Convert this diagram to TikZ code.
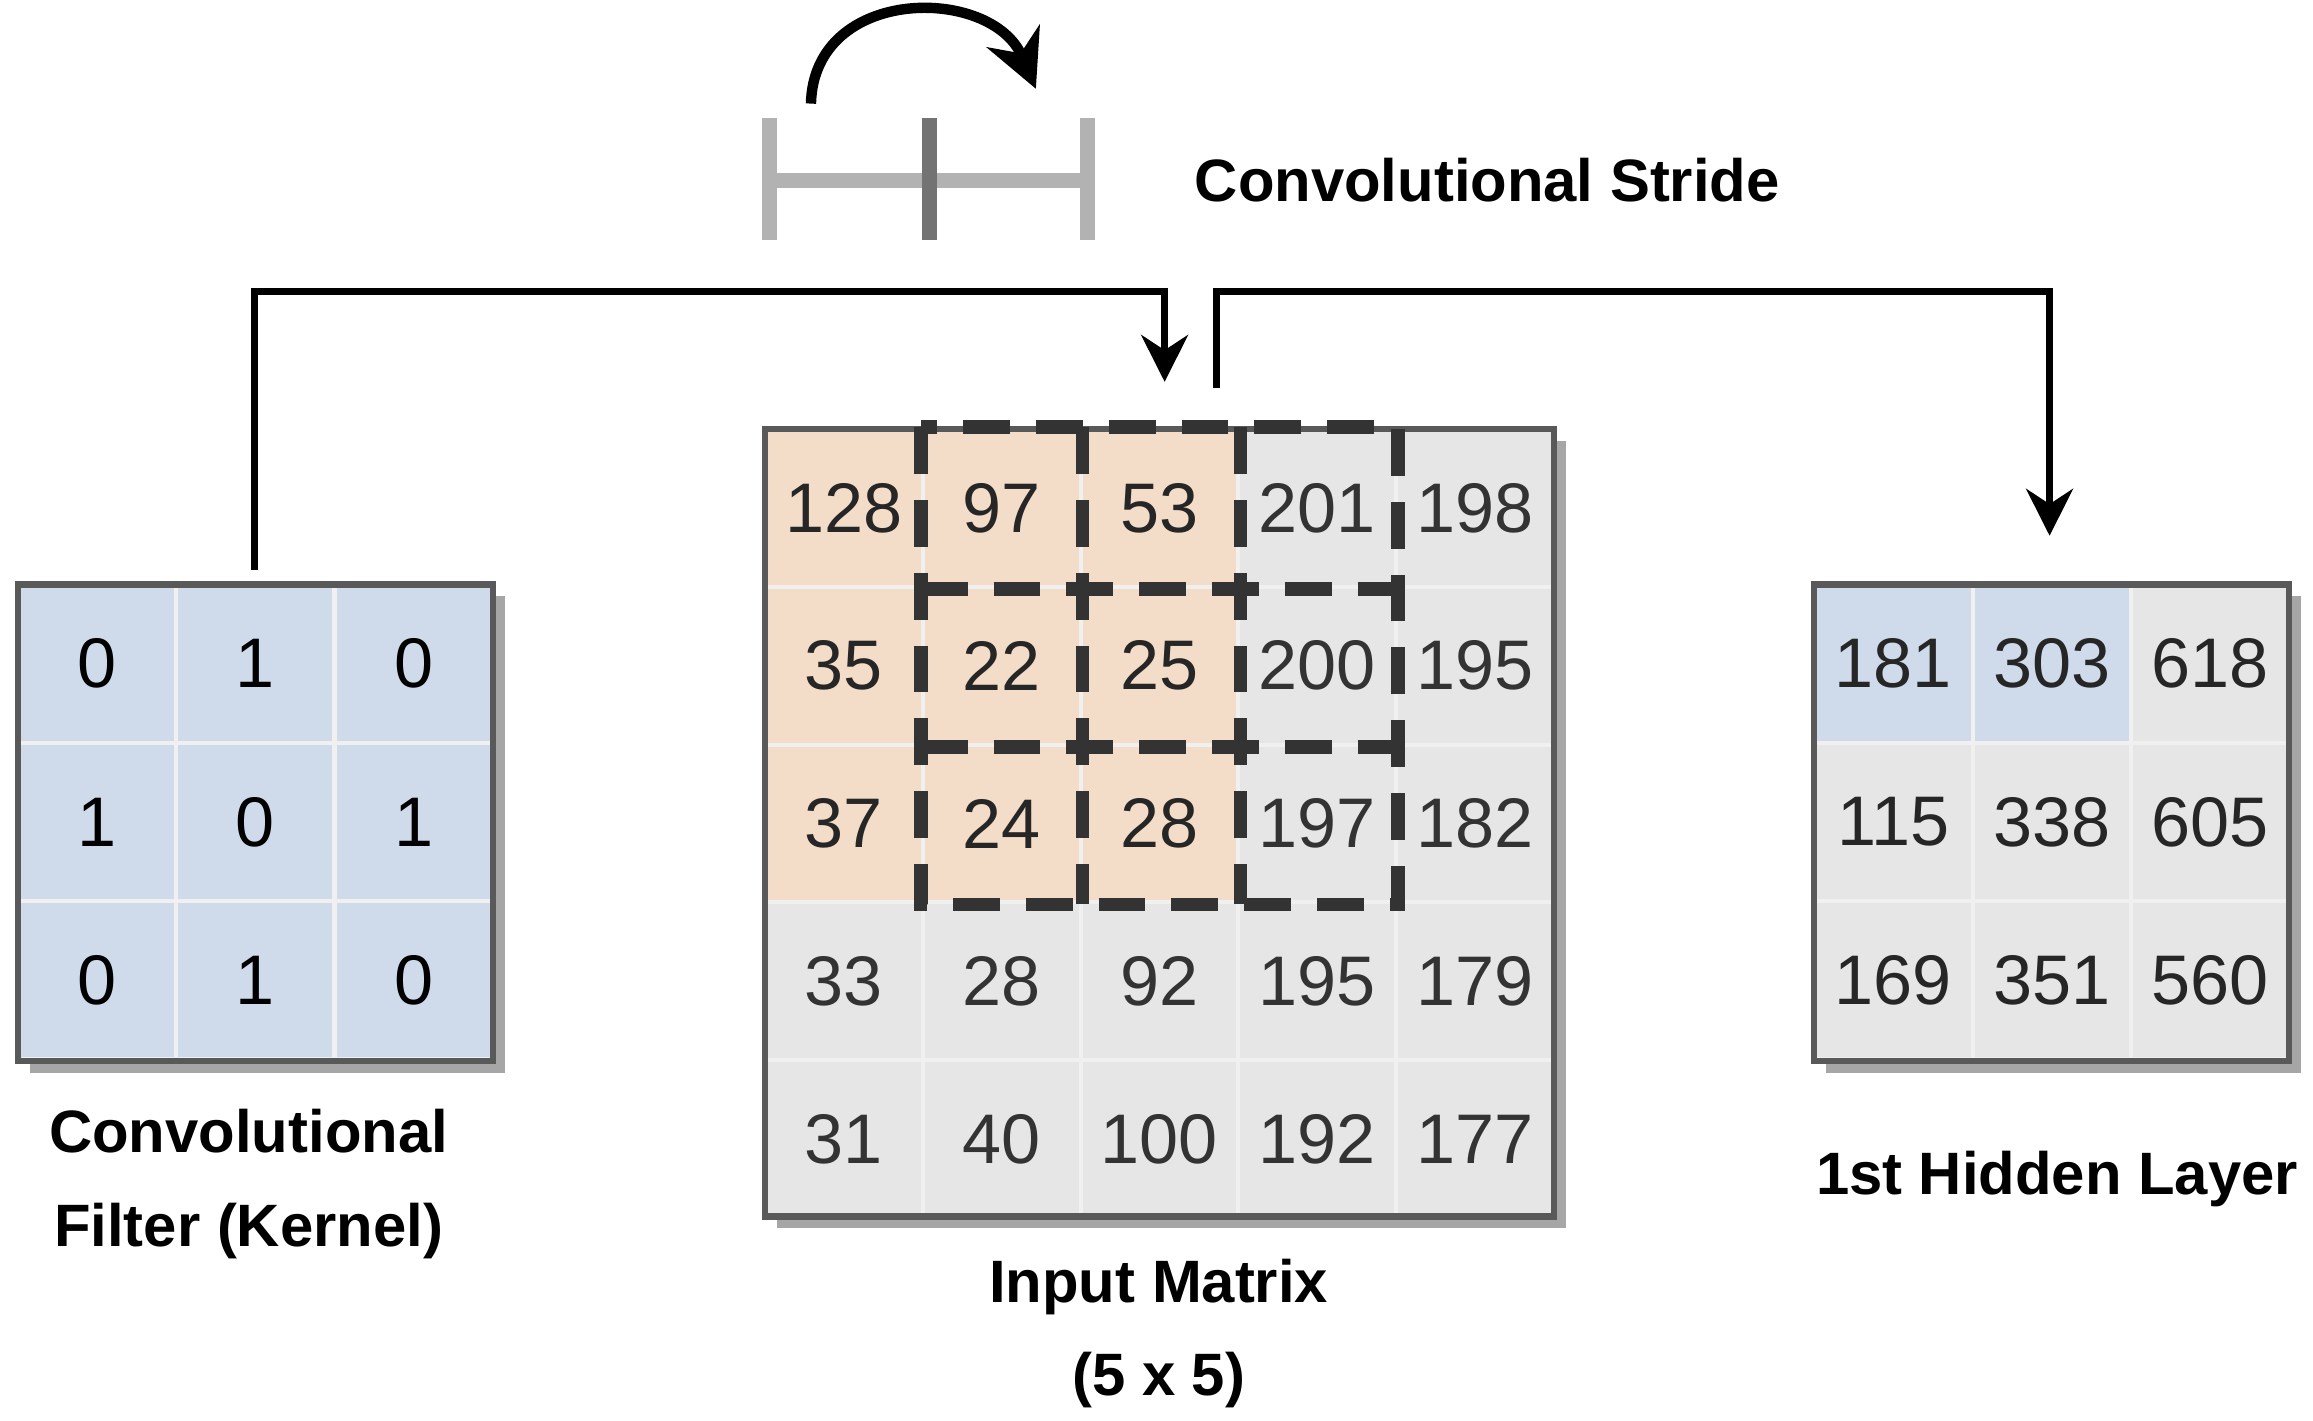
\documentclass[tikz,border=0pt]{standalone}
\usepackage{fontspec}
\setmainfont{Liberation Sans}
\usetikzlibrary{shadows,arrows.meta}
\definecolor{kblue}{HTML}{CFDAEA}
\definecolor{korange}{HTML}{F3DDC8}
\definecolor{kgray}{HTML}{E6E6E6}
\definecolor{ktext}{HTML}{333333}
\tikzset{
  cell/.style={minimum size=#1cm,inner sep=0pt,draw=white!88!gray,line width=0.8pt,font=\fontsize{13.5}{14}\selectfont},
  frame/.style={draw=gray!70!black,line width=1.2pt,drop shadow={shadow xshift=0.08cm,shadow yshift=-0.08cm,fill=gray!70,opacity=1}},
  lbl/.style={font=\bfseries\fontsize{11.5}{14}\selectfont,align=center},
  conn/.style={line width=1.3pt,-{Stealth[length=9pt,width=9pt]}}
}
\begin{document}
\begin{tikzpicture}
\useasboundingbox (0,0) rectangle (15.63,9.60);
% kernel
\filldraw[frame,fill=kblue] (0.12,2.43) rectangle (3.33,5.65);
\foreach \r/\row in {0/{0,1,0},1/{1,0,1},2/{0,1,0}}{
  \foreach \v [count=\c from 0] in \row
    \node[cell=1.07,fill=kblue] (k-\r-\c) at (0.655+1.07*\c,5.115-1.07*\r) {\v};
}
\draw[gray!70!black,line width=1.2pt] (0.12,2.43) rectangle (3.33,5.65);
% input matrix
\filldraw[frame,fill=kgray] (5.17,1.38) rectangle (10.50,6.70);
\foreach \r/\row in {0/{128,97,53,201,198},1/{35,22,25,200,195},2/{37,24,28,197,182},3/{33,28,92,195,179},4/{31,40,100,192,177}}{
  \foreach \v [count=\c from 0] in \row{
    \pgfmathsetmacro\hot{(\r<3)&&(\c<3)}
    \ifdim\hot pt>0pt
      \node[cell=1.066,fill=korange,text=black!85] (in-\r-\c) at (5.703+1.066*\c,6.167-1.066*\r) {\v};
    \else
      \node[cell=1.066,fill=kgray,text=ktext] (in-\r-\c) at (5.703+1.066*\c,6.167-1.066*\r) {\v};
    \fi
  }
}
\draw[gray!70!black,line width=1.2pt] (5.17,1.38) rectangle (10.50,6.70);
% stride window
\draw[ktext,line width=2.6pt,dash pattern=on 9pt off 5pt] (in-0-1.north west) rectangle (in-2-3.south east);
\foreach \c in {1,2}
  \draw[ktext,line width=2.6pt,dash pattern=on 9pt off 5pt] (in-0-\c.north east) -- (in-2-\c.south east);
\foreach \r in {0,1}
  \draw[ktext,line width=2.6pt,dash pattern=on 9pt off 5pt] (in-\r-1.south west) -- (in-\r-3.south east);
% hidden layer
\filldraw[frame,fill=kgray] (12.26,2.43) rectangle (15.47,5.65);
\foreach \r/\row in {0/{181,303,618},1/{115,338,605},2/{169,351,560}}{
  \foreach \v [count=\c from 0] in \row{
    \pgfmathsetmacro\hot{(\r<1)&&(\c<2)}
    \ifdim\hot pt>0pt
      \node[cell=1.07,fill=kblue,text=black!85] (h-\r-\c) at (12.795+1.07*\c,5.115-1.07*\r) {\v};
    \else
      \node[cell=1.07,fill=kgray,text=black!85] (h-\r-\c) at (12.795+1.07*\c,5.115-1.07*\r) {\v};
    \fi
  }
}
\draw[gray!70!black,line width=1.2pt] (12.26,2.43) rectangle (15.47,5.65);
% labels
\node[lbl] (klbl) at (1.68,1.60) {Convolutional\\[4pt]Filter (Kernel)};
\node[lbl] (inlbl) at (7.83,0.59) {Input Matrix\\[4pt](5 x 5)};
\node[lbl] (hlbl) at (13.90,1.63) {1st Hidden Layer};
\node[lbl,anchor=west] (stride) at (7.95,8.38) {Convolutional Stride};
% connectors
\coordinate (in-top) at (7.87,7.02);
\coordinate (in-out) at (8.22,6.98);
\coordinate (h-top) at (13.85,5.98);
\draw[conn] (1.72,5.75) |- (4.8,7.63) -| (in-top);
\draw[conn] (in-out) |- (11,7.63) -| (h-top);
% stride symbol
\coordinate (s-l) at (5.20,8.38);
\coordinate (s-m) at (6.28,8.38);
\coordinate (s-r) at (7.35,8.38);
\draw[gray!60,line width=3pt] (s-l) -- (s-r);
\draw[gray!60,line width=3pt] (s-l) ++(0,0.42) -- ++(0,-0.82);
\draw[gray!60,line width=3pt] (s-r) ++(0,0.42) -- ++(0,-0.82);
\draw[gray!90!black,line width=3pt] (s-m) ++(0,0.42) -- ++(0,-0.82);
\draw[line width=2pt,-{Stealth[length=11pt,width=11pt]}] (5.48,8.90) .. controls (5.5,9.7) and (6.7,9.7) .. (7.0,9.0);
\end{tikzpicture}
\end{document}
